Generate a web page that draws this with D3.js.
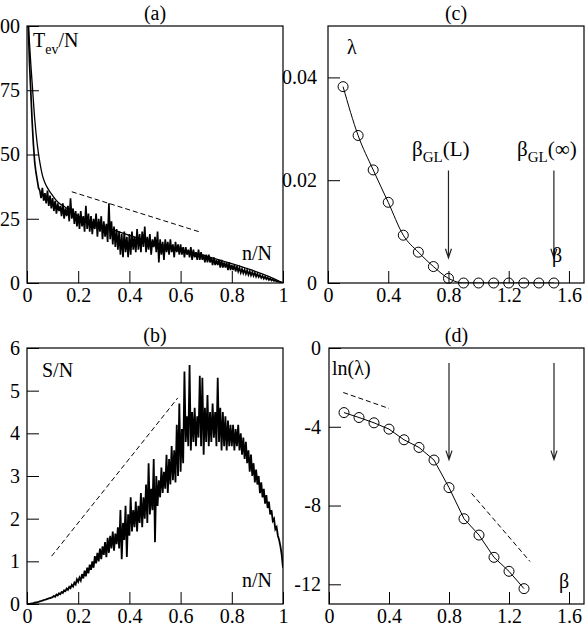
<!DOCTYPE html>
<html>
<head>
<meta charset="utf-8">
<script src="https://cdn.jsdelivr.net/npm/d3@7/dist/d3.min.js"></script>
<style>
  body { margin: 0; background: #fff; }
  svg, svg text { font-family: "Liberation Serif", "Times New Roman", serif; }
</style>
</head>
<body>
<svg id="chart" width="588" height="634"></svg>
<script>
// ---- data ----

// (a) T_ev/N vs n/N, sampled every 0.005 in n/N
const tevNoisy = [
  130, 100, 85, 74, 63, 54, 47, 43, 40, 37,
  36, 33, 37, 32, 35, 31, 36, 30, 34, 29,
  33, 28, 32, 27, 31, 28, 30, 26, 31, 25,
  29, 26, 30, 24, 33, 25, 29, 23, 28, 22,
  27, 21, 28, 22, 26, 20, 30, 21, 27, 20,
  26, 19, 25, 21, 27, 18, 25, 20, 26, 17,
  24, 18, 23, 16, 31, 17, 24, 15, 22, 14,
  21, 13, 20, 11, 19, 10, 20, 12, 18, 10,
  19, 11, 20, 13, 18, 12, 21, 13, 19, 12,
  20, 14, 22, 12, 18, 13, 19, 11, 17, 14,
  18, 12, 20, 8, 17, 11, 16, 9, 17, 12,
  16, 11, 17, 12, 15, 10, 16, 12, 15, 11,
  15, 11, 14, 10, 14, 11, 13, 10, 14, 9,
  13, 10, 12, 9, 13, 9, 12, 9, 11, 8,
  11, 8, 11, 8, 10, 7, 10, 7, 9, 7,
  9, 6, 9, 6, 8, 6, 8, 5, 8, 5,
  7, 5, 7, 4.5, 6.5, 4.5, 6, 4, 5.5, 3.8,
  5.2, 3.5, 5, 3.2, 4.6, 3, 4.3, 2.8, 4, 2.5,
  3.6, 2.3, 3.2, 2, 2.8, 1.7, 2.5, 1.5, 2.1, 1.2,
  1.8, 1, 1.4, 0.8, 1.1, 0.6, 0.7, 0.4, 0.3, 0.15,
  0
];
const tevSmoothN = [0.003, 0.006, 0.01, 0.015, 0.02, 0.03, 0.04, 0.05, 0.06, 0.07, 0.08, 0.1, 0.12, 0.15, 0.2, 0.3, 0.4, 0.5, 0.6, 0.7, 0.8, 0.9, 0.95, 1.0];
const tevSmoothT = [110, 100, 93, 85, 78, 64, 54, 47, 42, 39, 37, 34, 31.5, 29.5, 26, 22, 18.5, 15.5, 13, 10.5, 7.5, 4.2, 2.3, 0];
const tevGuideN = [0.175, 0.68];
const tevGuideT = [35.5, 19.7];

// (b) S/N vs n/N, sampled every 0.005 in n/N
const sNoisy = [
  0, 0.002, 0.005, 0.01, 0.015, 0.02, 0.03, 0.035, 0.045, 0.05,
  0.06, 0.07, 0.08, 0.09, 0.1, 0.11, 0.12, 0.13, 0.14, 0.15,
  0.16, 0.19, 0.17, 0.22, 0.2, 0.25, 0.23, 0.28, 0.26, 0.32,
  0.3, 0.36, 0.33, 0.4, 0.37, 0.45, 0.41, 0.5, 0.46, 0.58,
  0.52, 0.62, 0.55, 0.7, 0.6, 0.78, 0.65, 0.85, 0.72, 0.92,
  0.8, 1.0, 0.85, 1.12, 0.95, 1.2, 1.0, 1.3, 1.05, 1.35,
  1.15, 1.45, 1.1, 1.55, 1.2, 1.6, 1.3, 1.7, 1.25, 1.65,
  1.4, 1.8, 1.3, 2.2, 1.05, 1.9, 1.5, 2.3, 1.1, 2.1,
  1.6, 2.5, 1.7, 2.2, 1.8, 2.4, 1.7, 2.3, 1.9, 2.6,
  1.8, 2.5, 2.0, 2.8, 1.9, 3.3, 2.1, 2.7, 2.2, 3.4,
  1.45, 3.0, 2.3, 2.9, 2.5, 3.2, 2.6, 3.1, 2.7, 3.5,
  2.6, 3.4, 2.8, 3.7, 2.9, 3.6, 2.85, 4.2, 3.0, 4.7,
  3.1, 4.1, 3.3, 5.45, 3.8, 4.4, 3.7, 5.6, 3.6, 4.5,
  3.8, 4.6, 3.7, 4.4, 3.9, 5.35, 3.7, 5.3, 3.5, 4.6,
  3.8, 4.9, 3.7, 4.5, 3.8, 4.7, 3.9, 4.5, 3.7, 5.3,
  3.8, 4.6, 3.6, 4.5, 3.7, 4.4, 3.6, 4.3, 3.7, 4.2,
  3.7, 4.2, 3.6, 4.1, 3.7, 4.2, 3.6, 4.0, 3.5, 3.9,
  3.4, 3.8, 3.3, 3.6, 3.1, 3.5, 3.0, 3.3, 2.85, 3.15,
  2.8, 3.0, 2.6, 2.85, 2.5, 2.7, 2.35, 2.55, 2.25, 2.4,
  2.1, 2.2, 1.95, 2.0, 1.75, 1.8, 1.6, 1.5, 1.35, 1.15,
  0.85
];
const sGuideN = [0.096, 0.589];
const sGuideS = [1.12, 4.83];

// (c) lambda vs beta
const betaC = [0.1, 0.2, 0.3, 0.4, 0.5, 0.6, 0.7, 0.8, 0.9, 1.0, 1.1, 1.2, 1.3, 1.4, 1.5];
const lambdaC = [0.0382, 0.0287, 0.0220, 0.0157, 0.0093, 0.0060, 0.0032, 0.0009, 0, 0, 0, 0, 0, 0, 0];

// (d) ln(lambda) vs beta
const betaD = [0.1, 0.2, 0.3, 0.4, 0.5, 0.6, 0.7, 0.8, 0.9, 1.0, 1.1, 1.2, 1.3];
const lnLambdaD = [-3.28, -3.53, -3.80, -4.12, -4.66, -5.05, -5.69, -7.09, -8.67, -9.50, -10.63, -11.34, -12.22];
const dGuide1B = [0.095, 0.40];
const dGuide1L = [-2.26, -3.07];
const dGuide2B = [0.95, 1.34];
const dGuide2L = [-7.38, -10.84];

// arrows at beta_GL(L) and beta_GL(inf)
const arrowBeta = [0.8, 1.5];
const arrowC = [0.0219, 0.0049];
const arrowD = [-0.76, -5.67];

// ticks
const nTicks = [0, 0.2, 0.4, 0.6, 0.8, 1];
const tevTicks = [0, 25, 50, 75, 100];
const sTicks = [0, 1, 2, 3, 4, 5, 6];
const betaTicks = [0, 0.4, 0.8, 1.2, 1.6];
const lambdaTicks = [0, 0.02, 0.04];
const lnTicks = [-12, -8, -4, 0];

// ---- drawing ----
const svg = d3.select("#chart");
const fmt = d => String(d);

function styleAxis(a) {
    a.attr("font-family", null).attr("font-size", null);
    a.select(".domain").remove();
    a.selectAll("text").attr("font-size", 20).attr("fill", "#000");
    a.selectAll("line").attr("stroke", "#000");
}

function panel(id, box, xDomain, yDomain, xTicks, yTicks, labelPad) {
    const x = d3.scaleLinear().domain(xDomain).range([box.left, box.right]);
    const y = d3.scaleLinear().domain(yDomain).range([box.bottom, box.top]);

    svg.append("clipPath").attr("id", "clip-" + id)
        .append("rect")
        .attr("x", box.left).attr("y", box.top)
        .attr("width", box.right - box.left).attr("height", box.bottom - box.top);

    const g = svg.append("g");

    g.append("g")
        .attr("transform", `translate(0,${box.bottom})`)
        .call(d3.axisBottom(x).tickValues(xTicks).tickFormat(fmt)
            .tickSizeInner(-12).tickSizeOuter(0).tickPadding(5))
        .call(styleAxis);

    g.append("g")
        .attr("transform", `translate(${box.left},0)`)
        .call(d3.axisLeft(y).tickValues(yTicks).tickFormat(fmt)
            .tickSizeInner(-12).tickSizeOuter(0).tickPadding(labelPad))
        .call(styleAxis);

    g.append("rect")
        .attr("x", box.left).attr("y", box.top)
        .attr("width", box.right - box.left).attr("height", box.bottom - box.top)
        .attr("fill", "none").attr("stroke", "#000").attr("stroke-width", 1.2);

    const plot = g.append("g").attr("clip-path", `url(#clip-${id})`);
    return { x, y, g, plot };
}

function title(txt, box) {
    svg.append("text")
        .attr("x", (box.left + box.right) / 2)
        .attr("y", box.top - 6)
        .attr("text-anchor", "middle")
        .attr("font-size", 20)
        .text(txt);
}

function dashed(p, xs, ys) {
    p.plot.append("path")
        .attr("d", d3.line()(xs.map((v, i) => [p.x(v), p.y(ys[i])])))
        .attr("fill", "none")
        .attr("stroke", "#000")
        .attr("stroke-width", 1)
        .attr("stroke-dasharray", "5,3");
}

function arrow(p, bx, y0, y1) {
    const px = p.x(bx), top = p.y(y0), tip = p.y(y1);
    p.g.append("path")
        .attr("d", `M${px},${top}L${px},${tip}M${px - 3},${tip - 9}L${px},${tip}L${px + 3},${tip - 9}`)
        .attr("fill", "none")
        .attr("stroke", "#222")
        .attr("stroke-width", 1.2);
}

const boxA = { left: 27, right: 283, top: 26, bottom: 283 };
const boxC = { left: 328, right: 584, top: 26, bottom: 283 };
const boxB = { left: 27, right: 283, top: 348, bottom: 604 };
const boxD = { left: 329, right: 584, top: 348, bottom: 604 };

// (a)
const pA = panel("a", boxA, [0, 1], [0, 100], nTicks, tevTicks, 7);
title("(a)", boxA);
pA.plot.append("path")
    .attr("d", d3.line().curve(d3.curveMonotoneX)(tevSmoothN.map((n, i) => [pA.x(n), pA.y(tevSmoothT[i])])))
    .attr("fill", "none").attr("stroke", "#000").attr("stroke-width", 1.3);
pA.plot.append("path")
    .attr("d", d3.line()(tevNoisy.map((v, i) => [pA.x(i / (tevNoisy.length - 1)), pA.y(v)])))
    .attr("fill", "none").attr("stroke", "#000").attr("stroke-width", 1.7);
dashed(pA, tevGuideN, tevGuideT);
const tLab = svg.append("text").attr("x", 33).attr("y", 47).attr("font-size", 20);
tLab.append("tspan").text("T");
tLab.append("tspan").attr("font-size", 14).attr("dy", 7).text("ev");
tLab.append("tspan").attr("dy", -7).text("/N");
svg.append("text").attr("x", 242).attr("y", 260).attr("font-size", 20).text("n/N");

// (b)
const pB = panel("b", boxB, [0, 1], [0, 6], nTicks, sTicks, 7);
title("(b)", boxB);
pB.plot.append("path")
    .attr("d", d3.line()(sNoisy.map((v, i) => [pB.x(i / (sNoisy.length - 1)), pB.y(v)])))
    .attr("fill", "none").attr("stroke", "#000").attr("stroke-width", 1.8);
dashed(pB, sGuideN, sGuideS);
svg.append("text").attr("x", 42).attr("y", 377).attr("font-size", 20).text("S/N");
svg.append("text").attr("x", 242).attr("y", 587).attr("font-size", 20).text("n/N");

// (c)
const pC = panel("c", boxC, [0, 1.7], [0, 0.05], betaTicks, lambdaTicks, 11);
title("(c)", boxC);
pC.plot.append("path")
    .attr("d", d3.line().curve(d3.curveMonotoneX)(betaC.map((b, i) => [pC.x(b), pC.y(lambdaC[i])])))
    .attr("fill", "none").attr("stroke", "#000").attr("stroke-width", 1);
pC.g.selectAll("circle.m").data(betaC).join("circle")
    .attr("cx", d => pC.x(d)).attr("cy", (d, i) => pC.y(lambdaC[i])).attr("r", 5)
    .attr("fill", "none").attr("stroke", "#000").attr("stroke-width", 1);
arrowBeta.forEach(b => arrow(pC, b, arrowC[0], arrowC[1]));
svg.append("text").attr("x", 347).attr("y", 54).attr("font-size", 20).text("λ");
const gl1 = svg.append("text").attr("x", 412).attr("y", 156).attr("font-size", 21);
gl1.append("tspan").text("β");
gl1.append("tspan").attr("font-size", 15).attr("dy", 6).text("GL");
gl1.append("tspan").attr("dy", -6).text("(L)");
const gl2 = svg.append("text").attr("x", 517).attr("y", 156).attr("font-size", 21);
gl2.append("tspan").text("β");
gl2.append("tspan").attr("font-size", 15).attr("dy", 6).text("GL");
gl2.append("tspan").attr("dy", -6).text("(∞)");
svg.append("text").attr("x", 552).attr("y", 262).attr("font-size", 20).text("β");

// (d)
const pD = panel("d", boxD, [0, 1.7], [-13, 0], betaTicks, lnTicks, 8);
title("(d)", boxD);
pD.plot.append("path")
    .attr("d", d3.line()(betaD.map((b, i) => [pD.x(b), pD.y(lnLambdaD[i])])))
    .attr("fill", "none").attr("stroke", "#000").attr("stroke-width", 1);
pD.g.selectAll("circle.m").data(betaD).join("circle")
    .attr("cx", d => pD.x(d)).attr("cy", (d, i) => pD.y(lnLambdaD[i])).attr("r", 5)
    .attr("fill", "none").attr("stroke", "#000").attr("stroke-width", 1);
dashed(pD, dGuide1B, dGuide1L);
dashed(pD, dGuide2B, dGuide2L);
arrowBeta.forEach(b => arrow(pD, b, arrowD[0], arrowD[1]));
svg.append("text").attr("x", 332).attr("y", 375).attr("font-size", 20).text("ln(λ)");
svg.append("text").attr("x", 559).attr("y", 588).attr("font-size", 20).text("β");
</script>
</body>
</html>
